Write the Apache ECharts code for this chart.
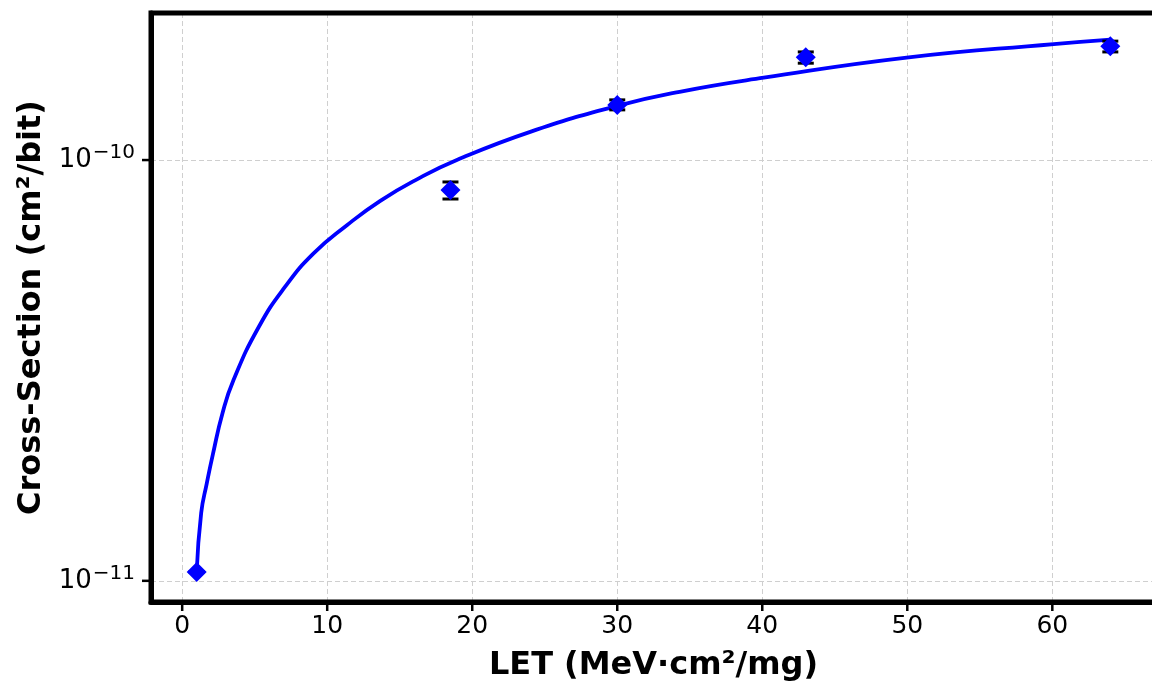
<!DOCTYPE html>
<html><head><meta charset="utf-8">
<script src="https://cdn.jsdelivr.net/npm/echarts@6/dist/echarts.min.js"></script>
<style>html,body{margin:0;padding:0;background:#fff;overflow:hidden}#c{width:1152px;height:685px}</style>
</head><body><div id="c"></div>
<script>
// Measured points
const measLET = [1, 18.5, 30, 43, 64];
const measXS = [1.05e-11, 8.49e-11, 1.352e-10, 1.755e-10, 1.863e-10];
const errLow = [1.05e-11, 8.08e-11, 1.316e-10, 1.699e-10, 1.807e-10];
const errHigh = [1.05e-11, 8.87e-11, 1.39e-10, 1.807e-10, 1.917e-10];
// Fitted curve
const fitLET = [1, 1.31, 1.70, 2.12, 2.78, 3.54, 5.26, 7.10, 9.06, 11.36, 13.66, 16.19, 18.94, 24.0, 30.0, 34.3, 40.1, 50.1, 60.1, 64];
const fitXS = [1.05e-11, 1.449e-11, 1.706e-11, 2.0e-11, 2.502e-11, 3.0e-11, 4.0e-11, 5.0e-11, 6.0e-11, 7.0e-11, 8.0e-11, 9.0e-11, 1.0e-10, 1.167e-10, 1.345e-10, 1.453e-10, 1.569e-10, 1.754e-10, 1.886e-10, 1.933e-10];
// Axis ticks
const xTicks = [0, 10, 20, 30, 40, 50, 60];
const yMajorTicks = [1e-11, 1e-10];
const yMinorGrid = [2e-11, 3e-11, 4e-11, 5e-11, 6e-11, 7e-11, 8e-11, 9e-11, 2e-10];
const xTitle = 'LET (MeV·cm²/mg)';
const yTitle = 'Cross-Section (cm²/bit)';

const FONT = 'DejaVu Sans';
const G = {left: 151, right: -4, top: 13, bottom: 83};
const W = 1152, H = 685;
const TICK = 9;
const gridLine = {color: '#cfcfcf', width: 1, type: [5, 3]};
const frameLine = {show: true, onZero: false, lineStyle: {color: '#000', width: 5}};
const chart = echarts.init(document.getElementById('c'), null, {renderer: 'canvas'});
chart.setOption({
  animation: false,
  backgroundColor: '#fff',
  grid: Object.assign({show: false, containLabel: false, outerBoundsMode: 'none'}, G),
  xAxis: {
    type: 'value', min: -2.15, max: 67.15, splitNumber: 7,
    name: xTitle, nameLocation: 'middle', nameGap: 48,
    nameTextStyle: {fontFamily: FONT, fontSize: 32, fontWeight: 'bold', color: '#000'},
    axisLine: frameLine,
    axisTick: {show: false},
    axisLabel: {fontFamily: FONT, fontSize: 25, color: '#000', margin: 12, customValues: xTicks,
      formatter: v => String(v)},
    splitLine: {show: true, lineStyle: gridLine}
  },
  yAxis: {
    type: 'log', logBase: 10, min: 8.906e-12, max: 2.236e-10,
    name: yTitle, nameLocation: 'middle', nameGap: 103, nameRotate: 90,
    nameTextStyle: {fontFamily: FONT, fontSize: 32, fontWeight: 'bold', color: '#000'},
    axisLine: frameLine,
    axisTick: {show: false},
    axisLabel: {
      fontFamily: FONT, color: '#000', margin: 16, showMinLabel: false, showMaxLabel: false,
      formatter: v => {
        const l = Math.log10(v), e = Math.round(l);
        if (Math.abs(l - e) > 1e-6) return '';
        return '{b|10}{s|−' + (-e) + '}';
      },
      rich: {
        b: {fontFamily: FONT, fontSize: 26, color: '#000', lineHeight: 30},
        s: {fontFamily: FONT, fontSize: 20, color: '#000', padding: [0, 0, 14, 1]}
      }
    },
    splitLine: {show: true, lineStyle: gridLine},
    minorTick: {show: false}
  },
  series: [
    {
      type: 'line', z: 1, silent: true, showSymbol: false,
      data: fitLET.map((x, i) => [x, fitXS[i]]),
      lineStyle: {opacity: 0},
      markLine: {
        silent: true, symbol: 'none', animation: false,
        label: {show: false},
        lineStyle: gridLine,
        emphasis: {disabled: true},
        data: yMinorGrid.map(v => ({yAxis: v}))
      }
    },
    {
      type: 'line', z: 3, showSymbol: false, smooth: 0.5,
      data: fitLET.map((x, i) => [x, fitXS[i]]),
      lineStyle: {color: '#0000ff', width: 3.8}
    },
    {
      type: 'custom', z: 4,
      data: measLET.map((x, i) => [x, errLow[i], errHigh[i]]),
      encode: {x: 0, y: [1, 2]},
      renderItem: (params, api) => {
        const x = api.value(0);
        const p1 = api.coord([x, api.value(1)]);
        const p2 = api.coord([x, api.value(2)]);
        const hw = 8;
        return {type: 'group', children: [
          {type: 'line', shape: {x1: p1[0], y1: p1[1], x2: p2[0], y2: p2[1]}, style: {stroke: '#000', lineWidth: 2}},
          {type: 'line', shape: {x1: p1[0] - hw, y1: p1[1], x2: p1[0] + hw, y2: p1[1]}, style: {stroke: '#000', lineWidth: 3}},
          {type: 'line', shape: {x1: p2[0] - hw, y1: p2[1], x2: p2[0] + hw, y2: p2[1]}, style: {stroke: '#000', lineWidth: 3}}
        ]};
      }
    },
    {
      type: 'scatter', z: 5, symbol: 'diamond', symbolSize: 20,
      data: measLET.map((x, i) => [x, measXS[i]]),
      itemStyle: {color: '#0000ff', opacity: 1}
    }
  ]
});

// Frame and outward tick marks, positioned through the axes' own scales
const gx0 = G.left, gy0 = G.top, gx1 = W - G.right, gy1 = H - G.bottom;
const graphics = [{
  type: 'rect', z: 100, silent: true,
  shape: {x: gx0, y: gy0, width: gx1 - gx0, height: gy1 - gy0},
  style: {fill: null, stroke: '#000', lineWidth: 5}
}];
xTicks.forEach(v => {
  const px = chart.convertToPixel({xAxisIndex: 0}, v);
  graphics.push({type: 'line', z: 100, silent: true,
    shape: {x1: px, y1: gy1, x2: px, y2: gy1 + TICK}, style: {stroke: '#000', lineWidth: 2.5}});
});
yMajorTicks.forEach(v => {
  const py = chart.convertToPixel({yAxisIndex: 0}, v);
  graphics.push({type: 'line', z: 100, silent: true,
    shape: {x1: gx0 - TICK, y1: py, x2: gx0, y2: py}, style: {stroke: '#000', lineWidth: 2.5}});
});
chart.setOption({graphic: graphics});
</script>
</body></html>
